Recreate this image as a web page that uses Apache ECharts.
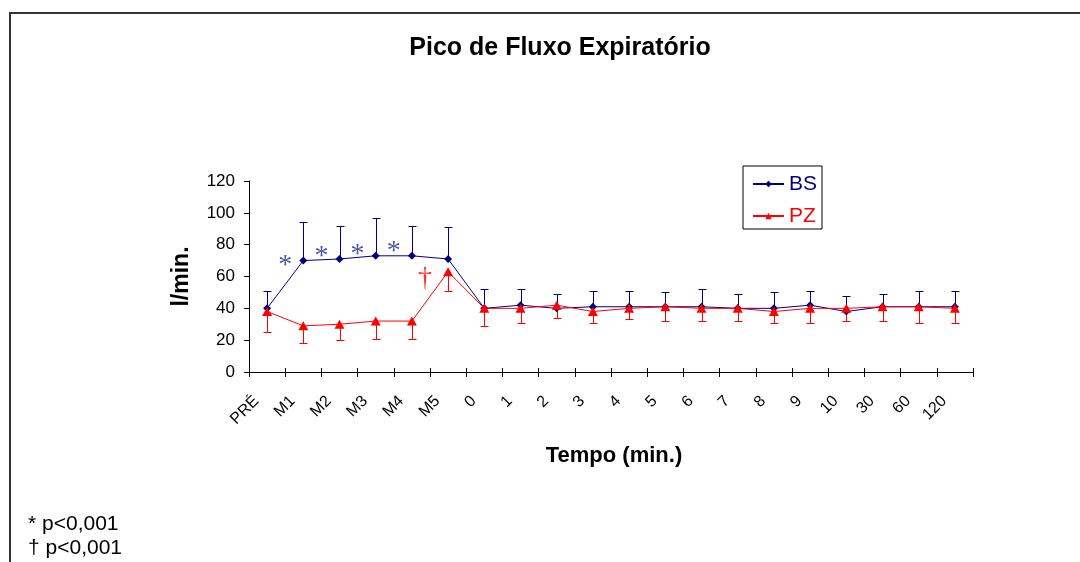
<!DOCTYPE html>
<html>
<head>
<meta charset="utf-8">
<script src="https://cdn.jsdelivr.net/npm/echarts@6/dist/echarts.min.js"></script>
<style>
html,body{margin:0;padding:0;background:#fff;}
#chart{width:1080px;height:562px;}
</style>
</head>
<body>
<div id="chart"></div>
<script>
// ---- data ----
var categories = ['PRÉ','M1','M2','M3','M4','M5','0','1','2','3','4','5','6','7','8','9','10','30','60','120'];
var bsValues  = [40,70,71,73,73,71,40,42,40,41,41,41,41,40,40,42,38,41,41,41];
var bsUpper   = [51,94,92,97,92,91,52,52,49,51,51,50,52,49,50,51,48,49,51,51];
var pzValues  = [38,29,30,32,32,63,40,40,42,38,40,41,40,40,38,40,40,41,41,40];
var pzLower   = [25,18,20,21,21,51,29,31,34,31,33,32,32,32,31,31,32,32,31,31];
var yTicks = [0,20,40,60,80,100,120];
// annotation marks: position on boundary scale (0..20), value, text
var starPos = [1,2,3,4];
var starVal = [70,75.5,77,79];
var daggerPos = [5];
var daggerVal = [59];
var footnotes = ['* p<0,001', '† p<0,001'];

var FONT = '"Liberation Sans", Arial, sans-serif';
var NAVY = '#000080', RED = '#ff0000';

var chart = echarts.init(document.getElementById('chart'), null, {renderer:'canvas'});

function errData(vals, bounds){
  return vals.map(function(v,i){ return [i, v, bounds[i]]; });
}
function errRender(color){
  return function(params, api){
    var x = api.value(0), v = api.value(1), b = api.value(2);
    var p1 = api.coord([x, v]), p2 = api.coord([x, b]);
    var cx = Math.round(p1[0]) + 0.5, by = Math.round(p2[1]) + 0.5;
    return {type:'group', children:[
      {type:'line', shape:{x1:cx, y1:p1[1], x2:cx, y2:by}, style:{stroke:color, lineWidth:1}},
      {type:'line', shape:{x1:cx-4, y1:by, x2:cx+4, y2:by}, style:{stroke:color, lineWidth:1}}
    ]};
  };
}

var option = {
  animation:false,
  backgroundColor:'#fff',
  textStyle:{fontFamily:FONT},
  title:{
    text:'Pico de Fluxo Expiratório',
    left:555, textAlign:'center', top:31,
    textStyle:{fontFamily:FONT, fontSize:25, fontWeight:'bold', color:'#000'}
  },
  legend:{
    orient:'vertical',
    left:743, top:166,
    padding:[7,5,2,9],
    itemGap:10,
    itemWidth:31, itemHeight:8,
    borderColor:'#000', borderWidth:1,
    textStyle:{fontFamily:FONT, fontSize:21, lineHeight:22},
    data:[{name:'BS', textStyle:{color:NAVY}}, {name:'PZ', textStyle:{color:RED}}]
  },
  grid:{left:249, top:181, width:724, height:191, containLabel:false},
  xAxis:[{
    type:'category', data:categories, boundaryGap:true,
    axisLine:{lineStyle:{color:'#000', width:1}},
    axisTick:{show:true, length:5, lineStyle:{color:'#000'}},
    axisLabel:{rotate:45, fontSize:16, color:'#000', margin:16, padding:[0,15,0,0], fontFamily:FONT, interval:0},
    name:'Tempo (min.)', nameLocation:'middle', nameGap:73,
    nameTextStyle:{fontFamily:FONT, fontSize:22, fontWeight:'bold', color:'#000', padding:[0,0,0,6]}
  },{
    type:'value', min:0, max:20, interval:1, position:'bottom',
    axisLine:{show:false},
    axisTick:{show:true, inside:true, length:4, lineStyle:{color:'#000'}},
    axisLabel:{show:false}, splitLine:{show:false}
  }],
  yAxis:{
    type:'value', min:yTicks[0], max:yTicks[yTicks.length-1], interval:20,
    axisLine:{show:true, lineStyle:{color:'#000', width:1}},
    axisTick:{show:true, length:5, lineStyle:{color:'#000'}},
    axisLabel:{fontSize:17, color:'#000', margin:14, fontFamily:FONT},
    splitLine:{show:false},
    name:'l/min.', nameLocation:'middle', nameGap:56,
    nameTextStyle:{fontFamily:FONT, fontSize:23, fontWeight:'bold', color:'#000'}
  },
  series:[
    {type:'custom', name:'BSerr', xAxisIndex:0, renderItem:errRender(NAVY), data:errData(bsValues,bsUpper), z:1, silent:true},
    {type:'custom', name:'PZerr', xAxisIndex:0, renderItem:errRender(RED), data:errData(pzValues,pzLower), z:1, silent:true},
    {type:'line', name:'BS', data:bsValues, xAxisIndex:0, symbol:'diamond', symbolSize:8, showAllSymbol:true,
      lineStyle:{color:NAVY, width:1}, itemStyle:{color:NAVY}, z:3},
    {type:'line', name:'PZ', data:pzValues, xAxisIndex:0, symbol:'triangle', symbolSize:[10,9], showAllSymbol:true,
      lineStyle:{color:RED, width:1}, itemStyle:{color:RED}, z:4},
    {type:'scatter', name:'stars', xAxisIndex:1, symbolSize:0, silent:true,
      data:starPos.map(function(p,i){return [p, starVal[i]];}),
      label:{show:true, position:'inside', formatter:'*', color:'#1a2a8c', fontFamily:'"Liberation Serif", serif', fontSize:28, offset:[0,5]}},
    {type:'scatter', name:'dagger', xAxisIndex:1, symbolSize:0, silent:true,
      data:daggerPos.map(function(p,i){return [p, daggerVal[i]];}),
      label:{show:true, position:'inside', formatter:'†', color:RED, fontFamily:'"Liberation Serif", serif', fontSize:28, offset:[-5,1]}}
  ],
  graphic:[
    {type:'rect', shape:{x:10, y:13, width:1200, height:800}, style:{fill:null, stroke:'#333', lineWidth:2}, silent:true},
    {type:'text', left:28, top:514, style:{text:footnotes[0], font:'21px ' + FONT, fill:'#000'}},
    {type:'text', left:28, top:538, style:{text:footnotes[1], font:'21px ' + FONT, fill:'#000'}}
  ]
};
chart.setOption(option);
</script>
</body>
</html>
